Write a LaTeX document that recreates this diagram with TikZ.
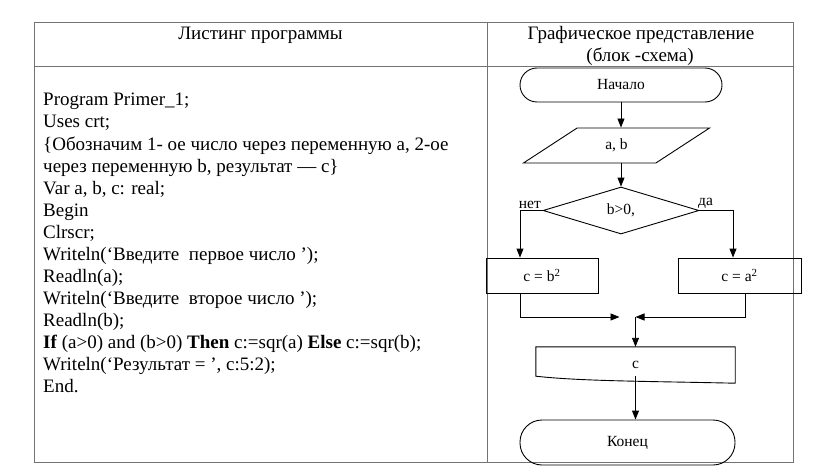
\documentclass[tikz,border=0pt]{standalone}
\usepackage{fontspec}
\setmainfont{Liberation Serif}
\usetikzlibrary{shapes.geometric,arrows.meta}

\tikzset{
  tabline/.style={line width=1pt,black!55},
  flow/.style={line width=.9pt,black},
  arr/.style={flow,-{Triangle[length=9pt,width=7pt]}},
  big/.style={font=\fontsize{19}{22}\selectfont,inner sep=0pt},
  small/.style={font=\fontsize{15.5}{18}\selectfont},
  term/.style={small,draw,flow,rectangle},
  io/.style={small,draw,flow,trapezium,trapezium left angle=45,trapezium right angle=135,
    trapezium stretches,minimum width=187pt,minimum height=35pt},
  cond/.style={small,draw,flow,diamond,minimum width=156pt,minimum height=47pt,inner sep=0pt},
  box/.style={small,draw,flow,rectangle,minimum height=35pt},
  doc/.style={small,rectangle,minimum width=199pt,minimum height=36pt},
  lbl/.style={small,inner sep=1.5pt}
}

\begin{document}
\begin{tikzpicture}[x=1pt,y=-1pt]
\useasboundingbox (0,0) rectangle (816,468);

\draw[tabline] (34,23) rectangle (793,462);
\draw[tabline] (34,67) -- (793,67);
\draw[tabline] (487,23) -- (487,462);

\node[big,anchor=base] (h1) at (260.5,40) {Листинг программы};
\node[big,anchor=base] (h2) at (641,40) {Графическое представление};
\node[big,anchor=base] (h3) at (640,62) {(блок -схема)};

\foreach \t [count=\i from 0] in {
  {Program Primer\_1;},
  {Uses crt;},
  {\{Обозначим 1- ое число через переменную а, 2-ое},
  {через переменную b, результат — с\}},
  {Var a, b, c: real;},
  {Begin},
  {Clrscr;},
  {Writeln(‘Введите\ \ первое число ’);},
  {Readln(a);},
  {Writeln(‘Введите\ \ второе число ’);},
  {Readln(b);},
  {\textbf{If} (a>0) and (b>0) \textbf{Then} c:=sqr(a) \textbf{Else} c:=sqr(b);},
  {Writeln(‘Результат = ’, c:5:2);},
  {End.}
} \node[big,anchor=base west] (l\i) at (43,106+22*\i) {\t};

\node[term,minimum width=202pt,minimum height=34pt,rounded corners=17pt] (start) at (621,85) {Начало};
\node[io] (in) at (616.5,145.5) {a, b};
\node[cond] (dec) at (621,210.5) {b>0,};
\node[lbl,anchor=south east] (no) at (dec.west) {нет};
\node[lbl,anchor=south west] (yes) at ([xshift=-3pt]dec.east) {да};
\node[box,minimum width=112pt] (nobox) at (542,275.5) {c = b\textsuperscript{2}};
\node[box,minimum width=123pt] (yesbox) at (739.5,275.5) {c = a\textsuperscript{2}};
\coordinate (join) at (635.5,317);
\node[doc] (out) at (635.5,365) {c};
\node[term,minimum width=215pt,minimum height=45pt,rounded corners=22pt] (stop) at (627.5,442.5) {Конец};

\draw[flow] (out.north west) -- (out.north east) -- (out.south east)
  .. controls +(-90,-2) and +(45,5) .. ([yshift=7pt]out.south west) -- cycle;

\draw[arr] (start.south) -- (start.south |- in.north);
\draw[arr] (start.south |- in.south) -- (dec.north);
\draw[arr] (dec.west) -| ([xshift=-22pt]nobox.north);
\draw[arr] (dec.east) -| ([xshift=-6.5pt]yesbox.north);
\draw[arr] ([xshift=-22pt]nobox.south) |- ([xshift=-16pt]join);
\draw[arr] ([xshift=5.5pt]yesbox.south) |- (join);
\draw[arr] (join) -- (out.north);
\draw[arr] ([yshift=7pt]out.south) -- (out.south |- stop.north);
\end{tikzpicture}
\end{document}
